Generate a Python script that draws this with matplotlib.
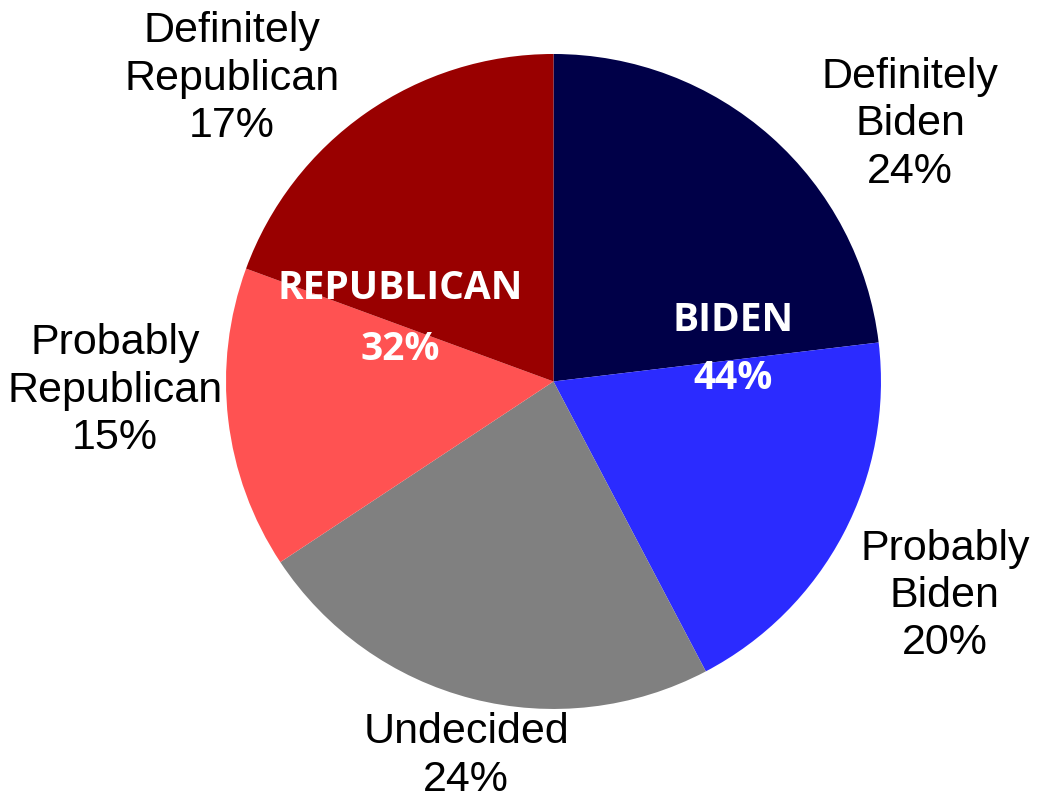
import matplotlib.pyplot as plt

# slice shares as drawn in the source (they do not match the printed labels)
categories = ["Definitely\nBiden", "Probably\nBiden", "Undecided",
              "Probably\nRepublican", "Definitely\nRepublican"]
slice_sizes = [23.1, 19.2, 23.4, 14.9, 19.4]
# percentages printed on the labels
label_pct = [24, 20, 24, 15, 17]
colors = ["#000048", "#2B2BFF", "#808080", "#FF5252", "#990000"]

biden_total = label_pct[0] + label_pct[1]
rep_total = label_pct[3] + label_pct[4]

fig = plt.figure(figsize=(10.4, 8.01), dpi=100)
ax = fig.add_axes([0.2173, 0.1149, 0.6298, 0.8177])
ax.pie(slice_sizes, colors=colors, startangle=90, counterclock=False,
       radius=1, wedgeprops={"linewidth": 0})
ax.set_xlim(-1, 1)
ax.set_ylim(-1, 1)
ax.set_aspect("equal")
ax.axis("off")

# outer labels
label_pos = [(1.089, 0.786), (1.195, -0.655), (-0.267, -1.143),
             (-1.339, -0.028), (-0.982, 0.925)]
for (x, y), name, pct in zip(label_pos, categories, label_pct):
    ax.text(x, y, f"{name}\n{pct}%", ha="center", va="center",
            fontsize=31, family="Liberation Sans", linespacing=1.24,
            clip_on=False)

# group labels inside the pie
inner = dict(ha="center", va="center", color="white", fontsize=28,
             fontweight="bold", family="Open Sans")
ax.text(0.548, 0.186, "BIDEN", **inner)
ax.text(0.548, 0.009, f"{biden_total}%", **inner)
ax.text(-0.469, 0.283, "REPUBLICAN", **inner)
ax.text(-0.469, 0.097, f"{rep_total}%", **inner)

fig.savefig("out.png", dpi=100)
